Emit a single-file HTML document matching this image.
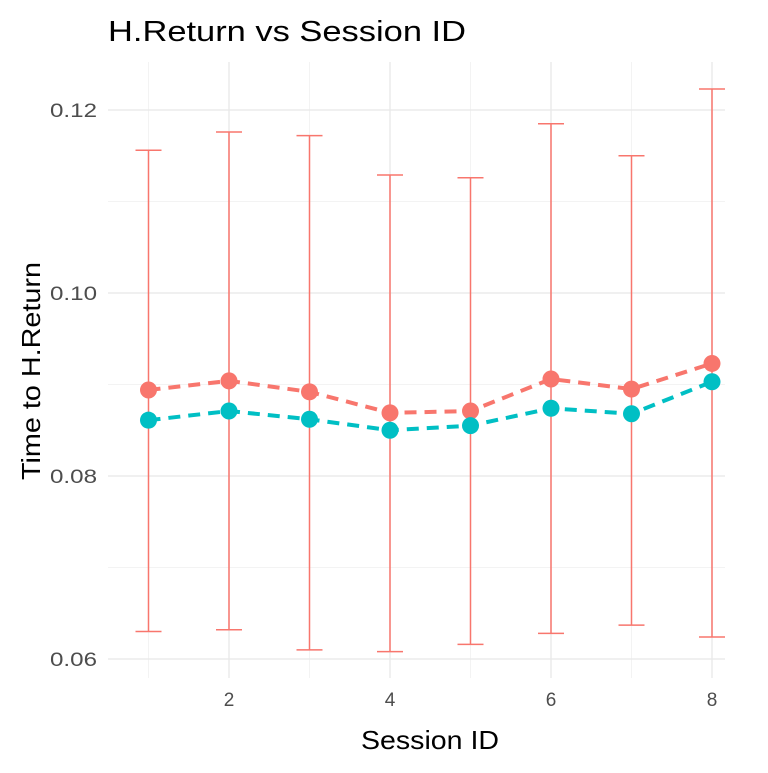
<!DOCTYPE html>
<html><head><meta charset="utf-8"><style>
body{margin:0;background:#fff;}
svg text{font-family:"Liberation Sans",sans-serif;}
</style></head><body>
<svg id="chart" width="768" height="768">
<text x="108" y="41" font-size="29" textLength="358" lengthAdjust="spacingAndGlyphs" fill="#000">H.Return vs Session ID</text>
<text x="430" y="749" font-size="26" textLength="138" lengthAdjust="spacingAndGlyphs" text-anchor="middle" fill="#000">Session ID</text>
<text transform="translate(40,371) rotate(-90)" font-size="26" textLength="218" lengthAdjust="spacingAndGlyphs" text-anchor="middle" fill="#000">Time to H.Return</text>
<g id="grid"></g><g id="ticks"></g><g id="marks"></g>
</svg>
<script>
const sessions=[1,2,3,4,5,6,7,8];
const redMean=[0.0894,0.0904,0.0892,0.0869,0.0871,0.0906,0.0895,0.0923];
const tealMean=[0.0861,0.0871,0.0862,0.0850,0.0855,0.0874,0.0868,0.0903];
const upper=[0.1156,0.1176,0.1172,0.1129,0.1126,0.1185,0.1150,0.1223];
const lower=[0.0630,0.0632,0.0610,0.0608,0.0616,0.0628,0.0637,0.0624];
const xTicks=[2,4,6,8];
const yTicks=[0.06,0.08,0.10,0.12];
const xMinor=[1,3,5,7];
const yMinor=[0.07,0.09,0.11];
const L=108,R=725,T=62,B=678;
const X=v=>229+(v-2)*80.5;
const Y=v=>293-(v-0.10)*9150;
const NS='http://www.w3.org/2000/svg';
function mk(parent,tag,attrs){const e=document.createElementNS(NS,tag);for(const k in attrs)e.setAttribute(k,attrs[k]);document.getElementById(parent).appendChild(e);return e;}
xMinor.forEach(v=>{const e=mk('grid','line',{x1:X(v),x2:X(v),y1:T,y2:B,stroke:'#f3f3f3','stroke-width':1});

});
yMinor.forEach(v=>{const e=mk('grid','line',{x1:L,x2:R,y1:Y(v),y2:Y(v),stroke:'#f3f3f3','stroke-width':1});

});
xTicks.forEach(v=>{const e=mk('grid','line',{x1:X(v),x2:X(v),y1:T,y2:B,stroke:'#e8e8e8','stroke-width':1.3});


const t=mk('ticks','text',{x:X(v),y:706,'font-size':19,'text-anchor':'middle',fill:'#4d4d4d'});t.textContent=v;

});
yTicks.forEach(v=>{const e=mk('grid','line',{x1:L,x2:R,y1:Y(v),y2:Y(v),stroke:'#e8e8e8','stroke-width':1.3});


const t=mk('ticks','text',{x:97,y:Y(v)+7,'font-size':19,textLength:47,lengthAdjust:'spacingAndGlyphs','text-anchor':'end',fill:'#4d4d4d'});t.textContent=v.toFixed(2);

});
const red='#f8766d',teal='#00bfc4';
sessions.forEach((s,i)=>{const x=X(s);
const g=mk('marks','path',{d:`M${x-13},${Y(upper[i])}H${x+13}M${x},${Y(upper[i])}V${Y(lower[i])}M${x-13},${Y(lower[i])}H${x+13}`,stroke:red,'stroke-width':1.5,fill:'none'});

});
function series(vals,col,name){
const l=mk('marks','polyline',{points:sessions.map((s,i)=>X(s)+','+Y(vals[i])).join(' '),fill:'none',stroke:col,'stroke-width':4,'stroke-dasharray':'12,8'});


sessions.forEach((s,i)=>{const c=mk('marks','circle',{cx:X(s),cy:Y(vals[i]),r:8.5,fill:col});

});}
series(redMean,red,'red-series');
series(tealMean,teal,'teal-series');
</script>
</body></html>
